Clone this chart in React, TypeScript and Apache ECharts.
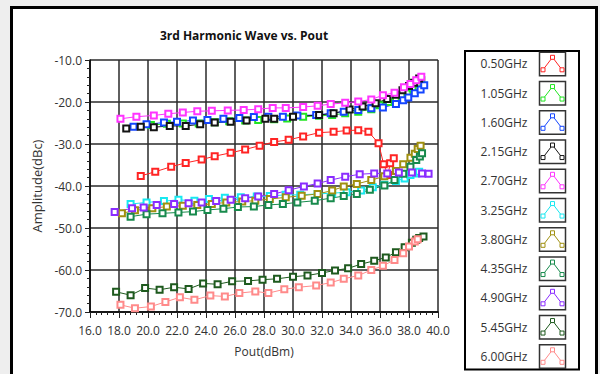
import React, { useEffect, useRef } from "react";
import * as echarts from "echarts";

const titleText = "3rd Harmonic Wave vs. Pout";
const xAxisName = "Pout(dBm)";
const yAxisName = "Amplitude(dBc)";

const freqLabels = ["0.50GHz", "1.05GHz", "1.60GHz", "2.15GHz", "2.70GHz", "3.25GHz", "3.80GHz", "4.35GHz", "4.90GHz", "5.45GHz", "6.00GHz"];
const freqColors = ["#ff2424", "#22e622", "#1446ff", "#141414", "#ff33ff", "#18e8f0", "#a09010", "#178a4c", "#8a2cff", "#1e5a1e", "#ff8a8a"];

const s050 = [[19.5,-37.6],[20.5,-36.6],[21.6,-35.4],[22.6,-34.5],[23.7,-33.7],[24.6,-32.9],[25.7,-32.1],[26.7,-31.3],[27.7,-30.4],[28.7,-29.5],[29.7,-29.0],[30.7,-28.2],[31.8,-27.3],[32.8,-27.1],[33.7,-26.8],[34.5,-26.7],[35.2,-27.1],[35.9,-29.8],[36.25,-34.8],[36.55,-37.4],[36.7,-34.6],[36.95,-33.4]];
const s105 = [[20.2,-25.5],[21.3,-25.2],[22.4,-25.1],[23.5,-25.1],[24.6,-24.8],[25.6,-24.6],[26.7,-24.4],[27.6,-24.3],[28.7,-24.1],[29.6,-23.9],[30.7,-23.5],[31.8,-23.3],[32.7,-23.1],[33.6,-22.7],[34.5,-22.3],[35.4,-21.7],[36.0,-20.8],[36.6,-20.0],[37.1,-19.2],[37.5,-18.6],[37.9,-17.9],[38.25,-16.8],[38.6,-15.6],[38.85,-14.8]];
const s160 = [[19.0,-25.9],[19.9,-25.3],[21.1,-24.9],[22.0,-24.7],[23.1,-24.4],[24.1,-24.3],[25.2,-24.0],[26.3,-23.8],[27.3,-23.6],[28.3,-23.5],[29.3,-23.5],[30.3,-23.2],[31.6,-23.1],[32.6,-22.7],[33.5,-22.3],[34.5,-21.9],[35.4,-21.5],[36.2,-21.3],[37.1,-20.5],[37.6,-19.6],[37.95,-18.9],[38.4,-17.9],[38.8,-17.0],[39.05,-16.0]];
const s215 = [[18.5,-26.3],[19.5,-25.9],[20.4,-26.0],[21.5,-25.7],[22.6,-25.7],[23.6,-25.3],[24.6,-24.9],[25.7,-24.7],[26.8,-24.4],[28.1,-24.0],[28.7,-24.0],[30.0,-23.5],[31.8,-23.1],[32.8,-22.7],[33.9,-21.8],[34.8,-21.1],[35.7,-20.3],[36.5,-19.3],[37.1,-18.3],[37.55,-17.2],[38.0,-16.2],[38.35,-15.4],[38.7,-14.4]];
const s270 = [[18.1,-24.0],[19.2,-23.5],[20.4,-23.2],[21.4,-22.8],[22.4,-22.5],[23.4,-22.2],[24.4,-22.1],[25.5,-22.0],[26.6,-21.9],[27.6,-21.7],[28.6,-21.4],[29.5,-21.4],[30.7,-21.2],[31.7,-20.9],[32.6,-20.5],[33.6,-20.2],[34.5,-19.9],[35.4,-19.4],[36.2,-18.4],[37.0,-17.8],[37.65,-16.5],[38.1,-15.7],[38.5,-14.8],[38.85,-14.0]];
const s325 = [[18.8,-44.3],[19.9,-43.9],[21.1,-43.6],[22.1,-43.3],[23.2,-43.5],[24.2,-43.1],[25.3,-42.8],[26.4,-42.7],[27.5,-42.5],[28.4,-42.4],[29.5,-42.1],[30.5,-42.1],[31.7,-41.9],[32.7,-41.7],[33.7,-41.5],[34.7,-41.1],[35.5,-40.3],[36.3,-39.7],[37.1,-38.8],[37.7,-38.2],[38.1,-37.4],[38.5,-37.0],[38.7,-36.6]];
const s380 = [[18.2,-46.5],[19.1,-45.8],[20.3,-45.3],[21.3,-44.9],[22.4,-44.7],[23.4,-44.5],[24.4,-44.3],[25.4,-43.9],[26.5,-43.7],[27.4,-43.5],[28.4,-43.1],[29.5,-42.7],[30.6,-42.3],[31.7,-41.9],[32.7,-41.1],[33.5,-40.1],[34.4,-39.5],[35.4,-38.6],[36.3,-37.7],[37.1,-36.4],[37.6,-34.8],[38.1,-33.3],[38.4,-32.3],[38.6,-31.2],[38.8,-30.4]];
const s435 = [[18.8,-47.3],[19.9,-46.7],[21.0,-46.5],[22.1,-46.3],[23.1,-46.1],[24.1,-45.7],[25.2,-45.4],[26.2,-45.0],[27.3,-44.9],[28.3,-44.5],[29.3,-44.3],[30.3,-43.9],[31.5,-43.5],[32.6,-42.9],[33.5,-42.4],[34.4,-41.9],[35.3,-40.9],[36.3,-39.9],[37.0,-38.6],[37.6,-37.1],[38.1,-35.4],[38.5,-33.8],[38.75,-33.0],[38.9,-32.2]];
const s490 = [[17.7,-46.2],[18.9,-45.3],[19.7,-45.1],[20.6,-44.5],[21.8,-44.3],[22.8,-44.1],[23.7,-43.9],[24.7,-43.6],[25.7,-43.3],[26.7,-42.9],[27.6,-42.5],[28.7,-41.9],[29.7,-41.0],[30.75,-40.1],[31.7,-39.4],[32.6,-38.6],[33.6,-37.8],[34.6,-37.2],[35.6,-37.0],[36.5,-37.0],[37.3,-36.8],[38.2,-36.8],[38.9,-37.0],[39.35,-37.1]];
const s545 = [[17.8,-65.2],[18.8,-66.0],[19.8,-64.3],[20.8,-64.7],[21.8,-64.1],[22.8,-64.5],[23.8,-63.2],[24.8,-63.4],[25.8,-62.7],[26.9,-62.6],[27.9,-62.3],[28.9,-62.1],[30.0,-61.6],[31.0,-61.3],[32.0,-60.7],[32.9,-60.1],[33.8,-59.6],[34.7,-58.6],[35.6,-57.8],[36.4,-57.0],[37.1,-55.8],[37.7,-54.6],[38.2,-53.5],[38.5,-52.8],[38.7,-52.4],[39.0,-52.0]];
const s600 = [[18.1,-68.3],[19.1,-69.1],[20.2,-68.7],[21.2,-67.6],[22.2,-66.5],[23.2,-67.1],[24.3,-66.1],[25.3,-66.3],[26.3,-65.5],[27.4,-65.1],[28.3,-65.5],[29.4,-64.6],[30.4,-64.1],[31.6,-63.7],[32.6,-63.0],[33.5,-62.1],[34.5,-61.3],[35.4,-60.0],[36.2,-59.0],[37.0,-57.6],[37.6,-56.0],[38.0,-54.4],[38.4,-53.2],[38.6,-52.7]];

const seriesData = [s050, s105, s160, s215, s270, s325, s380, s435, s490, s545, s600];

const FONT = '"Open Sans", "DejaVu Sans", sans-serif';
const TXT = "#333";

export default function App() {
  const ref = useRef<HTMLDivElement>(null);
  useEffect(() => {
    if (!ref.current) return;
    const chart = echarts.init(ref.current, null, { renderer: "svg" });

    const legendEls: any[] = [];
    const lx0 = 465, ly0 = 51, lx1 = 579, ly1 = 369.5;
    legendEls.push({
      type: "rect",
      shape: { x: lx0, y: ly0, width: lx1 - lx0, height: ly1 - ly0 },
      style: { fill: "#fff", stroke: "#000", lineWidth: 2 },
    });
    freqLabels.forEach((lab, i) => {
      const c = 63.8 + i * 29.25;
      const col = freqColors[i];
      legendEls.push({
        type: "text",
        style: { text: lab, x: 527.5, y: c, textAlign: "right", textVerticalAlign: "middle", font: `12px ${FONT}`, fill: TXT },
      });
      legendEls.push({
        type: "rect",
        shape: { x: 539.5, y: c - 11.5, width: 26, height: 23.5 },
        style: { fill: "#fff", stroke: "#333", lineWidth: 1.5 },
      });
      const pts = [[543, c + 6], [552.5, c - 6.5], [562, c + 6]];
      legendEls.push({
        type: "polyline",
        shape: { points: pts },
        style: { stroke: col, lineWidth: 1, fill: null },
      });
      pts.forEach((p) => {
        legendEls.push({
          type: "rect",
          shape: { x: p[0] - 2, y: p[1] - 2, width: 4, height: 4 },
          style: { stroke: col, lineWidth: 1, fill: "#fff" },
        });
      });
    });

    chart.setOption({
      animation: false,
      backgroundColor: "transparent",
      textStyle: { fontFamily: FONT },
      grid: { left: 90, top: 60, width: 348, height: 252, containLabel: false },
      xAxis: {
        type: "value",
        min: 16,
        max: 40,
        interval: 2,
        name: xAxisName,
        nameLocation: "middle",
        nameGap: 33,
        nameTextStyle: { color: TXT, fontSize: 12, fontFamily: FONT },
        axisLine: { show: true, lineStyle: { color: "#000", width: 1.5 } },
        axisTick: { show: true, length: 6, lineStyle: { color: "#222", width: 1 } },
        minorTick: { show: true, splitNumber: 5, length: 3, lineStyle: { color: "#222", width: 1 } },
        axisLabel: { color: TXT, fontSize: 12, margin: 12, fontFamily: FONT, formatter: (v: number) => v.toFixed(1) },
        splitLine: { show: true, lineStyle: { color: "#2a2a2a", width: 1.5 } },
      },
      yAxis: {
        type: "value",
        min: -70,
        max: -10,
        interval: 10,
        name: yAxisName,
        nameLocation: "middle",
        nameGap: 42,
        nameTextStyle: { color: TXT, fontSize: 13, fontFamily: FONT },
        axisLine: { show: true, lineStyle: { color: "#000", width: 1.5 } },
        axisTick: { show: true, length: 5, lineStyle: { color: "#222", width: 1 } },
        minorTick: { show: true, splitNumber: 5, length: 3, lineStyle: { color: "#222", width: 1 } },
        axisLabel: { color: TXT, fontSize: 12, margin: 8, fontFamily: FONT, formatter: (v: number) => v.toFixed(1) },
        splitLine: { show: true, lineStyle: { color: "#2a2a2a", width: 1.5 } },
      },
      series: seriesData.map((d, i) => ({
        type: "line",
        name: freqLabels[i],
        data: d,
        symbol: "emptyRect",
        symbolSize: 6,
        showSymbol: true,
        lineStyle: { color: freqColors[i], width: 1 },
        itemStyle: { color: freqColors[i], borderColor: freqColors[i], borderWidth: 0.9 },
        emphasis: { disabled: true },
      })),
      graphic: [
        {
          type: "text",
          style: { text: titleText, x: 244, y: 35, textAlign: "center", textVerticalAlign: "middle", font: `bold 12px ${FONT}`, fill: "#111" },
        },
        ...legendEls,
      ],
    });
    return () => chart.dispose();
  }, []);

  return (
    <div style={{ position: "fixed", left: 0, top: 0, width: 600, height: 374, background: "#eeeeee", overflow: "hidden" }}>
      <div style={{ position: "absolute", left: 10, top: 6, width: 588, height: 420, background: "#fff", border: "3px solid #000", boxSizing: "border-box" }} />
      <div ref={ref} style={{ position: "absolute", left: 0, top: 0, width: 600, height: 374 }} />
    </div>
  );
}
